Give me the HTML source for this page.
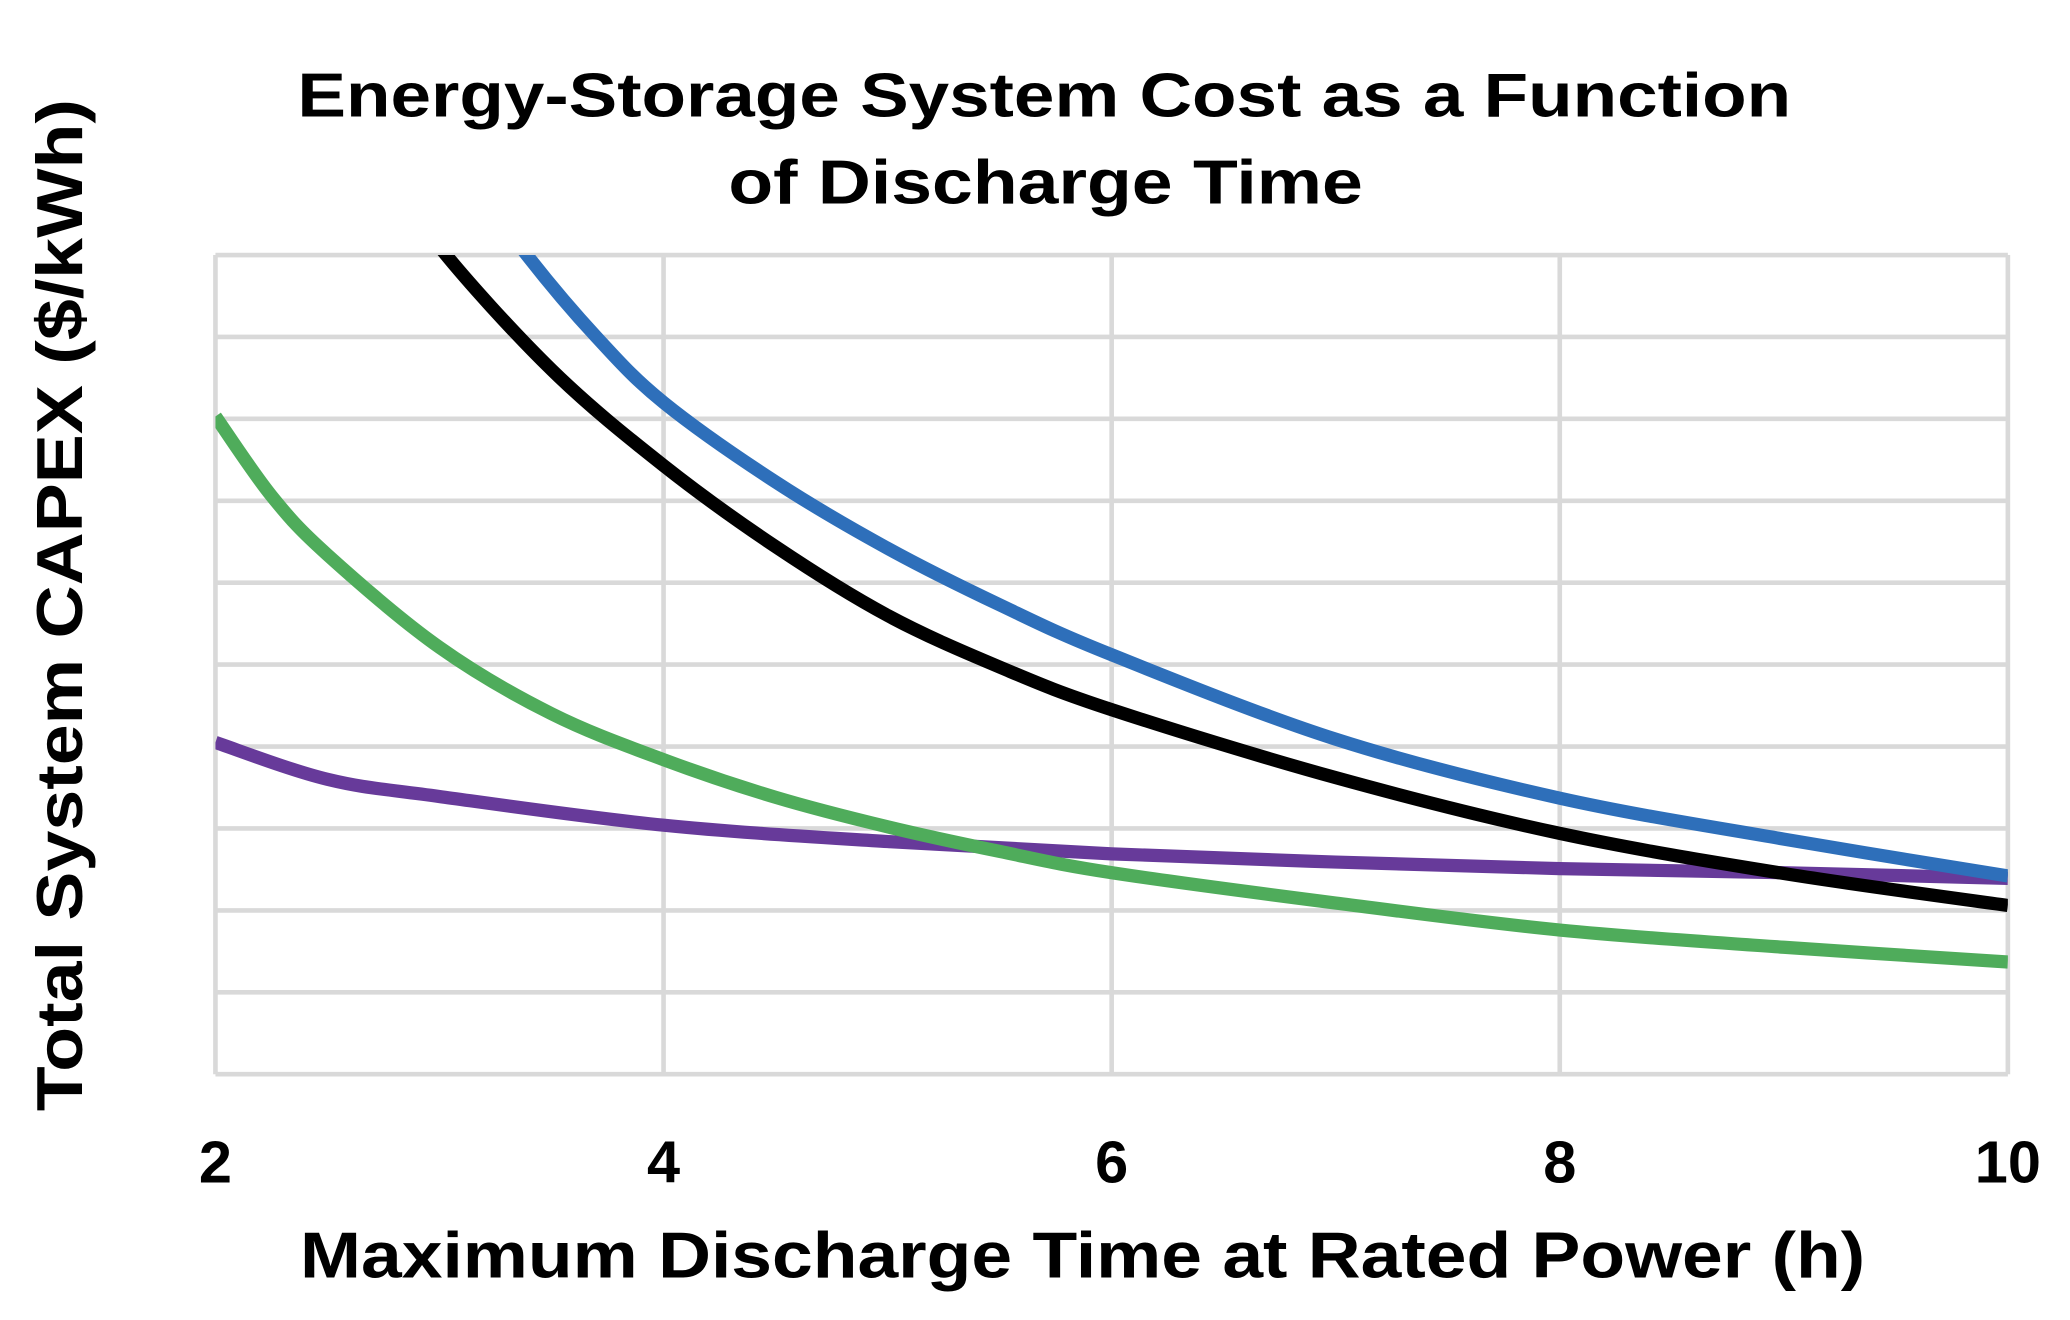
<!DOCTYPE html>
<html><head><meta charset="utf-8"><style>
html,body{margin:0;padding:0;background:#fff;}
svg{display:block;}
text{font-family:"Liberation Sans",Arial,sans-serif;font-weight:bold;fill:#000;}
</style></head><body>
<svg id="chart" width="2070" height="1320" viewBox="0 0 1566 999" preserveAspectRatio="none" xmlns="http://www.w3.org/2000/svg">
<text x="790" y="88" font-size="47" text-anchor="middle" textLength="1130" lengthAdjust="spacingAndGlyphs">Energy-Storage System Cost as a Function</text>
<text x="791" y="154" font-size="47" text-anchor="middle" textLength="480" lengthAdjust="spacingAndGlyphs">of Discharge Time</text>
<g id="grid"></g>
<g id="series"></g>
<g id="xticks"></g>
<text x="819" y="967" font-size="49" text-anchor="middle" textLength="1184" lengthAdjust="spacingAndGlyphs">Maximum Discharge Time at Rated Power (h)</text>
<text transform="translate(62,458) rotate(-90)" font-size="49" text-anchor="middle" textLength="766" lengthAdjust="spacingAndGlyphs">Total System CAPEX ($/kWh)</text>
</svg>
<script>
const xTicks = [2, 4, 6, 8, 10];
const yGrid = [0, 100, 200, 300, 400, 500, 600, 700, 800, 900, 1000];
const blackX = [2.8, 3.0, 3.5, 4, 4.5, 5, 5.5, 6, 7, 8, 9, 10];
const blackY = [1100, 1010, 860, 743, 644, 560, 497, 445, 362, 294, 245, 206];
const blueX = [3.1, 3.39, 3.7, 4, 4.5, 5, 5.5, 6, 7, 8, 9, 10];
const blueY = [1110, 1000, 900, 820, 723, 642, 573, 512, 409, 337, 287, 242];
const greenX = [2, 2.25, 2.5, 3, 3.5, 4, 4.5, 5, 5.5, 6, 7, 8, 9, 10];
const greenY = [803, 706, 634, 521, 440, 384, 338, 302, 272, 246, 209, 176, 155, 137];
const purpleX = [2, 2.5, 3, 4, 5, 6, 7, 8, 9, 10];
const purpleY = [405, 360, 339, 304, 284, 269, 259, 251, 246, 239];

const L=163,R=1519,T=193,B=813;
const xs=v=>L+(v-2)/(10-2)*(R-L);
const ys=v=>B-(v/1000)*(B-T);
const NS="http://www.w3.org/2000/svg";
const svg=document.getElementById('chart');
const defs=document.createElementNS(NS,'defs');
defs.innerHTML='<clipPath id="clip"><rect x="'+L+'" y="'+T+'" width="'+(R-L)+'" height="'+(B-T)+'"/></clipPath>';
svg.insertBefore(defs,svg.firstChild);
const grid=document.getElementById('grid');
yGrid.forEach(v=>{
  const l=document.createElementNS(NS,'line');
  
  
  l.setAttribute('x1',L);l.setAttribute('x2',R);l.setAttribute('y1',ys(v));l.setAttribute('y2',ys(v));
  l.setAttribute('stroke','#d9d9d9');l.setAttribute('stroke-width','3.5');
  grid.appendChild(l);
});
const xt=document.getElementById('xticks');
xTicks.forEach(v=>{
  const l=document.createElementNS(NS,'line');
  
  
  l.setAttribute('x1',xs(v));l.setAttribute('x2',xs(v));l.setAttribute('y1',T);l.setAttribute('y2',B);
  l.setAttribute('stroke','#d9d9d9');l.setAttribute('stroke-width','3.5');
  grid.appendChild(l);
  const t=document.createElementNS(NS,'text');
  
  
  t.setAttribute('x',xs(v));t.setAttribute('y',895);t.setAttribute('font-size','45');t.setAttribute('text-anchor','middle');
  t.textContent=v;
  xt.appendChild(t);
});
function pathFrom(X,Y){
  const p=X.map((x,i)=>[xs(x),ys(Y[i])]);
  let d='M'+p[0][0]+','+p[0][1];
  for(let i=0;i<p.length-1;i++){
    const p0=p[i-1]||p[i],p1=p[i],p2=p[i+1],p3=p[i+2]||p2;
    const c1=[p1[0]+(p2[0]-p0[0])/6,p1[1]+(p2[1]-p0[1])/6];
    const c2=[p2[0]-(p3[0]-p1[0])/6,p2[1]-(p3[1]-p1[1])/6];
    d+=' C'+c1+' '+c2+' '+p2;
  }
  return d;
}
const sg=document.getElementById('series');
sg.setAttribute('clip-path','url(#clip)');
[['purple-series',purpleX,purpleY,'#673a9a'],['green-series',greenX,greenY,'#4fac5b'],['blue-series',blueX,blueY,'#2e6fba'],['black-series',blackX,blackY,'#000000']].forEach(s=>{
  const p=document.createElementNS(NS,'path');
  
  
  p.setAttribute('d',pathFrom(s[1],s[2]));
  p.setAttribute('fill','none');p.setAttribute('stroke',s[3]);p.setAttribute('stroke-width','10');
  sg.appendChild(p);
});
</script>
</body></html>
